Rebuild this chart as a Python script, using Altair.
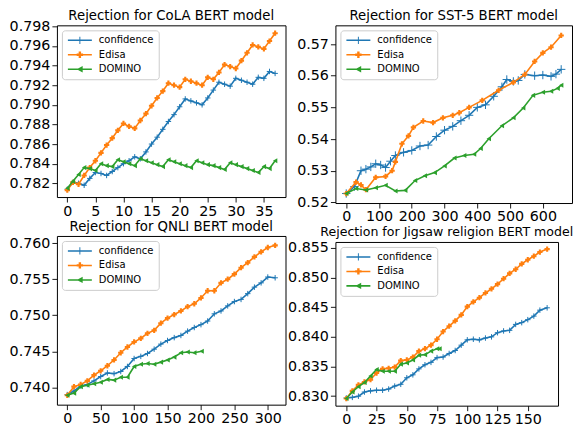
import altair as alt
import pandas as pd

METHODS = ["confidence", "Edisa", "DOMINO"]
COLORS = ["#1f77b4", "#ff7f0e", "#2ca02c"]

cola_x = list(range(38))
cola_conf = [0.7814, 0.7821, 0.7820, 0.7818, 0.7825, 0.7831, 0.7830, 0.7828, 0.7832, 0.7836,
             0.7840, 0.7843, 0.7847, 0.7845, 0.7852, 0.7860, 0.7867, 0.7875, 0.7883, 0.7890,
             0.7898, 0.7906, 0.7904, 0.7902, 0.7900, 0.7907, 0.7915, 0.7923, 0.7921, 0.7919,
             0.7927, 0.7925, 0.7923, 0.7921, 0.7928, 0.7927, 0.7934, 0.7932]
cola_edisa = [0.7813, 0.7821, 0.7819, 0.7828, 0.7836, 0.7843, 0.7851, 0.7859, 0.7866, 0.7874,
              0.7881, 0.7878, 0.7876, 0.7884, 0.7891, 0.7899, 0.7907, 0.7914, 0.7922, 0.7920,
              0.7918, 0.7926, 0.7924, 0.7922, 0.7920, 0.7928, 0.7926, 0.7933, 0.7941, 0.7939,
              0.7937, 0.7945, 0.7953, 0.7961, 0.7959, 0.7957, 0.7965, 0.7973]
cola_domino = [0.7815, 0.7822, 0.7829, 0.7836, 0.7835, 0.7833, 0.7840, 0.7838, 0.7837, 0.7844,
               0.7842, 0.7840, 0.7838, 0.7845, 0.7843, 0.7841, 0.7839, 0.7837, 0.7844, 0.7842,
               0.7840, 0.7838, 0.7836, 0.7843, 0.7841, 0.7839, 0.7838, 0.7836, 0.7834, 0.7841,
               0.7839, 0.7837, 0.7835, 0.7833, 0.7831, 0.7837, 0.7835, 0.7843]

sst_conf_x = [0, 25, 45, 60, 75, 90, 105, 120, 135, 150, 175, 200, 225, 250, 275, 300, 325,
              350, 375, 400, 425, 450, 475, 490, 510, 525, 545, 575, 600, 625, 640, 656]
sst_conf = [0.5228, 0.5250, 0.5300, 0.5305, 0.5312, 0.5322, 0.5318, 0.5310, 0.5330, 0.5348,
            0.5358, 0.5364, 0.5378, 0.5381, 0.5408, 0.5428, 0.5440, 0.5458, 0.5475, 0.5500,
            0.5508, 0.5535, 0.5565, 0.5588, 0.5582, 0.5585, 0.5604, 0.5600, 0.5602, 0.5598,
            0.5605, 0.5620]
sst_edisa_x = [0, 30, 45, 60, 90, 120, 140, 150, 170, 190, 205, 235, 265, 295, 325, 345,
               375, 415, 465, 510, 545, 575, 600, 625, 656]
sst_edisa = [0.5228, 0.5264, 0.5255, 0.5240, 0.5279, 0.5282, 0.5300, 0.5328, 0.5385, 0.5410,
             0.5437, 0.5457, 0.5452, 0.5467, 0.5475, 0.5483, 0.5500, 0.5522, 0.5554, 0.5579,
             0.5604, 0.5645, 0.5672, 0.5690, 0.5727]
sst_domino_x = [0, 30, 60, 90, 120, 150, 180, 210, 240, 270, 300, 330, 360, 390, 410, 435,
                475, 510, 540, 570, 600, 625, 645, 656]
sst_domino = [0.5228, 0.5244, 0.5239, 0.5246, 0.5254, 0.5236, 0.5238, 0.5269, 0.5284, 0.5294,
              0.5315, 0.5340, 0.5348, 0.5352, 0.5370, 0.5401, 0.5442, 0.5467, 0.5498, 0.5538,
              0.5548, 0.5551, 0.5560, 0.5570]

qnli_x = [0, 10, 20, 30, 40, 50, 60, 70, 80, 90, 100, 110, 120, 130, 140, 150, 160, 170,
          180, 190, 200, 210, 220, 230, 240, 250, 260, 270, 280, 290, 300, 311]
qnli_conf = [0.7390, 0.7395, 0.7402, 0.7404, 0.7409, 0.7415, 0.7420, 0.7419, 0.7422, 0.7429,
             0.7440, 0.7443, 0.7447, 0.7453, 0.7460, 0.7465, 0.7469, 0.7472, 0.7478, 0.7483,
             0.7487, 0.7492, 0.7502, 0.7506, 0.7513, 0.7519, 0.7522, 0.7530, 0.7539, 0.7545,
             0.7553, 0.7552]
qnli_edisa = [0.7389, 0.7401, 0.7404, 0.7409, 0.7417, 0.7423, 0.7430, 0.7438, 0.7448, 0.7456,
              0.7463, 0.7468, 0.7475, 0.7479, 0.7489, 0.7496, 0.7501, 0.7506, 0.7512, 0.7516,
              0.7524, 0.7534, 0.7534, 0.7545, 0.7550, 0.7557, 0.7566, 0.7573, 0.7581, 0.7588,
              0.7594, 0.7597]
qnli_domino_x = [0, 10, 20, 30, 40, 50, 60, 70, 80, 90, 100, 110, 120, 130, 140, 150, 160,
                 170, 180, 190, 201]
qnli_domino = [0.7389, 0.7392, 0.7401, 0.7403, 0.7405, 0.7407, 0.7411, 0.7410, 0.7414, 0.7414,
               0.7429, 0.7432, 0.7433, 0.7432, 0.7435, 0.7438, 0.7442, 0.7448, 0.7449, 0.7448,
               0.7450]

jig_x = [0, 5, 10, 15, 20, 25, 30, 35, 40, 45, 50, 55, 60, 65, 70, 75, 80, 85, 90, 95, 100,
         105, 110, 115, 120, 125, 130, 135, 140, 145, 150, 155, 160, 166]
jig_conf = [0.8297, 0.8298, 0.8300, 0.8307, 0.8309, 0.8310, 0.8310, 0.8312, 0.8317, 0.8320,
            0.8331, 0.8336, 0.8346, 0.8353, 0.8357, 0.8365, 0.8366, 0.8372, 0.8377, 0.8386,
            0.8395, 0.8396, 0.8395, 0.8398, 0.8400, 0.8407, 0.8410, 0.8411, 0.8421, 0.8424,
            0.8429, 0.8435, 0.8445, 0.8449]
jig_edisa = [0.8296, 0.8309, 0.8319, 0.8324, 0.8328, 0.8339, 0.8346, 0.8347, 0.8349, 0.8360,
             0.8361, 0.8366, 0.8376, 0.8380, 0.8386, 0.8396, 0.8409, 0.8418, 0.8427, 0.8437,
             0.8451, 0.8459, 0.8466, 0.8474, 0.8481, 0.8489, 0.8498, 0.8507, 0.8514, 0.8523,
             0.8530, 0.8536, 0.8543, 0.8548]
jig_domino_x = [0, 5, 10, 15, 20, 25, 30, 35, 40, 45, 50, 55, 60, 65, 70, 75, 77]
jig_domino = [0.8296, 0.8307, 0.8316, 0.8323, 0.8334, 0.8345, 0.8342, 0.8342, 0.8342, 0.8354,
              0.8356, 0.8361, 0.8369, 0.8370, 0.8376, 0.8380, 0.8380]

FONT = "DejaVu Sans"
THIN_PLUS = "M-1,0H1M0,-1V1"
LEG_PATHS = [
    "M-3,-0.19H3V0.19H-3Z M-0.12,-0.9H0.12V0.9H-0.12Z",
    "M-3,-0.19H3V0.19H-3Z M-0.3,-0.8H0.3V-0.3H0.8V0.3H0.3V0.8H-0.3V0.3H-0.8V-0.3H-0.3Z",
    "M-3,-0.19H3V0.19H-3Z M-0.8,0L0.7,-0.8L0.7,0.8Z",
]


def panel(title, tsize, toff, series, xdom, ydom, xticks, yticks, yfmt, w, h, conf_size=30):
    xax = alt.Axis(values=xticks, format="d", title=None, grid=False, domain=False,
                   tickSize=5, labelFlush=False, labelOverlap=False)
    yax = alt.Axis(values=yticks, format=yfmt, title=None, grid=False, domain=False,
                   tickSize=5, labelOverlap=False)
    layers = []
    marks = [
        dict(shape=THIN_PLUS, filled=False, strokeWidth=1, size=conf_size),
        dict(shape="cross", filled=True, size=28),
        dict(shape="triangle-left", filled=True, size=26),
    ]
    for (xs, ys), color, mk in zip(series, COLORS, marks):
        df = pd.DataFrame({"x": xs, "y": ys})
        base = alt.Chart(df).encode(
            x=alt.X("x:Q", scale=alt.Scale(domain=xdom, nice=False, zero=False), axis=xax),
            y=alt.Y("y:Q", scale=alt.Scale(domain=ydom, nice=False, zero=False), axis=yax),
        )
        layers.append(base.mark_line(color=color, strokeWidth=1.6))
        layers.append(base.mark_point(color=color, opacity=1, **mk))
    leg = alt.Legend(title=None, orient="top-left", offset=5, fillColor="white",
                     strokeColor="#cccccc", cornerRadius=3, padding=5,
                     labelFont=FONT, labelFontSize=10, labelColor="black",
                     symbolSize=64, symbolStrokeWidth=0, labelOffset=14, symbolOffset=8,
                     rowPadding=4.5, symbolOpacity=1)
    legdf = pd.DataFrame({"method": METHODS})
    layers.append(
        alt.Chart(legdf).transform_filter("false").mark_point(filled=True, size=64, opacity=1).encode(
            color=alt.Color("method:N", scale=alt.Scale(domain=METHODS, range=COLORS), legend=leg),
            shape=alt.Shape("method:N", scale=alt.Scale(domain=METHODS, range=LEG_PATHS), legend=leg),
        )
    )
    return alt.layer(*layers).properties(
        width=w, height=h,
        title=alt.TitleParams(title, fontSize=tsize, font=FONT, fontWeight="normal",
                              color="black", offset=toff),
    )


p1 = panel("Rejection for CoLA BERT model", 13.3, -3,
           [(cola_x, cola_conf), (cola_x, cola_edisa), (cola_x, cola_domino)],
           [-1.85, 38.85], [0.7806, 0.7981], list(range(0, 36, 5)),
           [0.782, 0.784, 0.786, 0.788, 0.790, 0.792, 0.794, 0.796, 0.798], ".3f", 229, 172)
p2 = panel("Rejection for SST-5 BERT model", 13.3, 3,
           [(sst_conf_x, sst_conf), (sst_edisa_x, sst_edisa), (sst_domino_x, sst_domino)],
           [-33, 689], [0.5198, 0.5759], list(range(0, 601, 100)),
           [0.52, 0.53, 0.54, 0.55, 0.56, 0.57], ".2f", 237, 178, conf_size=70)
p3 = panel("Rejection for QNLI BERT model", 13.3, 3,
           [(qnli_x, qnli_conf), (qnli_x, qnli_edisa), (qnli_domino_x, qnli_domino)],
           [-15.5, 326.5], [0.7376, 0.7610], list(range(0, 301, 50)),
           [0.740, 0.745, 0.750, 0.755, 0.760], ".3f", 229, 169)
p4 = panel("Rejection for Jigsaw religion BERT model", 12.6, 2,
           [(jig_x, jig_conf), (jig_x, jig_edisa), (jig_domino_x, jig_domino)],
           [-9, 175], [0.8284, 0.8560], list(range(0, 151, 25)),
           [0.830, 0.835, 0.840, 0.845, 0.850, 0.855], ".3f", 223, 164)

left = alt.vconcat(p1, p3, spacing=0).resolve_scale(color="independent", shape="independent")
right = alt.vconcat(p2, p4, spacing=0).resolve_scale(color="independent", shape="independent")

chart = (
    alt.hconcat(left, right, spacing=0)
    .resolve_scale(color="independent", shape="independent")
    .properties(padding=0)
    .configure_view(stroke="black", strokeWidth=1)
    .configure_axis(labelFont=FONT, labelFontSize=14.3, labelColor="black",
                    tickColor="black", tickWidth=0.9, labelPadding=2)
    .configure_concat(spacing=0)
)

chart.save("out.html", embed_options={"renderer": "svg", "actions": False})
